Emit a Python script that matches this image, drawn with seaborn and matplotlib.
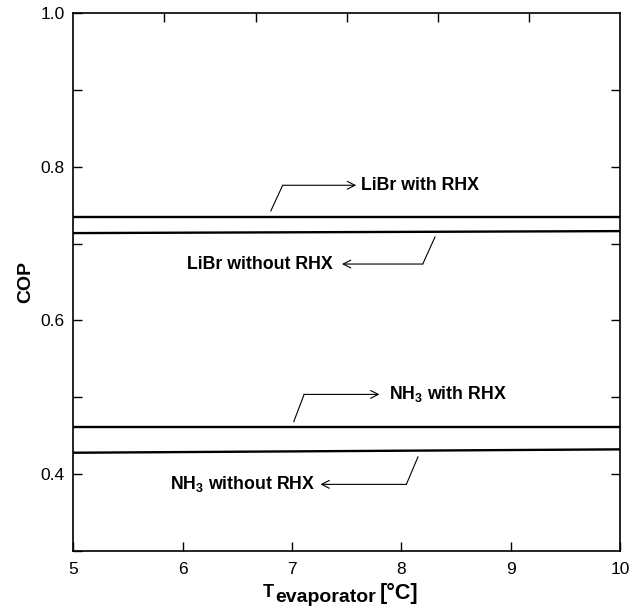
import matplotlib
matplotlib.use("Agg")
import matplotlib.pyplot as plt
import numpy as np
import pandas as pd
import seaborn as sns

# ---------------- data ----------------
t_evap = [5.0, 7.5, 10.0]
cop_libr_rhx = [0.7342, 0.7342, 0.7342]
cop_libr_norhx = [0.7137, 0.7150, 0.7163]
cop_nh3_rhx = [0.4614, 0.4614, 0.4614]
cop_nh3_norhx = [0.4276, 0.4298, 0.4320]
series_names = ["LiBr with RHX", "LiBr without RHX", "NH3 with RHX", "NH3 without RHX"]

x_ticks = [5, 6, 7, 8, 9, 10]
y_major = [0.4, 0.6, 0.8, 1.0]
y_minor = [0.3, 0.5, 0.7, 0.9]

# annotation label, line start, corner, arrow head, text position, alignment
ann_labels = ["LiBr with RHX", "LiBr without RHX", r"NH$_\mathregular{3}$ with RHX", r"NH$_\mathregular{3}$ without RHX"]
ann_start = [(6.806, 0.7424), (8.309, 0.709), (7.016, 0.468), (8.153, 0.4224)]
ann_corner = [(6.915, 0.776), (8.196, 0.6734), (7.111, 0.5036), (8.046, 0.3864)]
ann_head = [(7.587, 0.776), (7.457, 0.6734), (7.800, 0.5036), (7.260, 0.3864)]
ann_text = [(7.632, 0.776), (7.376, 0.6734), (7.885, 0.5036), (7.215, 0.3864)]
ann_ha = ["left", "right", "left", "right"]

df = pd.concat([
    pd.DataFrame({"T": t_evap, "COP": v, "series": n})
    for v, n in zip([cop_libr_rhx, cop_libr_norhx, cop_nh3_rhx, cop_nh3_norhx], series_names)
])

sns.set_style("white")
plt.rcParams["font.family"] = ["Liberation Sans", "DejaVu Sans"]
plt.rcParams["mathtext.fontset"] = "custom"
plt.rcParams["mathtext.rm"] = "Liberation Sans:bold"
plt.rcParams["mathtext.bf"] = "Liberation Sans:bold"
for k in ["text.color", "axes.labelcolor", "xtick.color", "ytick.color", "axes.edgecolor"]:
    plt.rcParams[k] = "black"
plt.rcParams["axes.axisbelow"] = False

W, H = 642, 610
fig = plt.figure(figsize=(W / 100, H / 100), dpi=100)
L, R, T, B = 73.3, 620.0, 13.3, 550.7
ax = fig.add_axes([L / W, 1 - B / H, (R - L) / W, (B - T) / H])

sns.lineplot(data=df, x="T", y="COP", hue="series", palette=["black"] * 4,
             legend=False, ax=ax, linewidth=1.7)

ax.set_xlim(5, 10)
ax.set_ylim(0.3, 1.0)
ax.set_xticks(x_ticks)
ax.set_xticklabels([str(v) for v in x_ticks])
ax.set_yticks(y_major)
ax.set_yticklabels([f"{v:.1f}" for v in y_major])
ax.set_yticks(y_minor, minor=True)
for s in ax.spines.values():
    s.set_visible(True)
    s.set_color("black")
    s.set_linewidth(1.2)

tick_kw = dict(direction="in", length=6.5, width=1.0, color="black")

ax.xaxis.set_ticks_position("bottom")
ax.yaxis.set_ticks_position("left")
ax.tick_params(axis="both", which="both", labelsize=12.5, labelcolor="black", **tick_kw)
ax.tick_params(axis="x", which="both", bottom=True, pad=8)
ax.tick_params(axis="y", which="both", left=True, pad=6)

top = ax.secondary_xaxis("top")
top.set_xticks([5 + k * 5 / 6 for k in range(1, 6)])
top.tick_params(top=True, labeltop=False, **tick_kw)
right = ax.secondary_yaxis("right")
right.set_yticks(y_major[:-1] + y_minor[1:])
right.tick_params(right=True, labelright=False, **tick_kw)
for sa in (top, right):
    sa.patch.set_visible(False)
    for s in sa.spines.values():
        s.set_visible(False)

ax.set_xlabel("")
ax.set_ylabel("COP", fontsize=14, fontweight="bold", labelpad=5)

for lab, s0, c0, h0, tp, ha in zip(ann_labels, ann_start, ann_corner, ann_head, ann_text, ann_ha):
    ax.plot([s0[0], c0[0]], [s0[1], c0[1]], color="black", lw=0.8)
    ax.annotate("", xy=h0, xytext=c0,
                arrowprops=dict(arrowstyle="->,head_length=0.55,head_width=0.28", lw=0.8,
                                color="black", shrinkA=0, shrinkB=0))
    ax.text(tp[0], tp[1], lab, ha=ha, va="center", fontsize=12.8, fontweight="bold")

# x label composed of pieces: T, subscript-like 'evaporator', and [°C]
fig.canvas.draw()
r = fig.canvas.get_renderer()
t1 = fig.text(263 / W, 1 - 597 / H, "T", fontsize=13, fontweight="bold", va="baseline", ha="left")
e1 = t1.get_window_extent(r)
t2 = fig.text((e1.x1 + 1.0) / W, 1 - 602 / H, "evaporator", fontsize=14, fontweight="bold",
              va="baseline", ha="left")
e2 = t2.get_window_extent(r)
t3 = fig.text((e2.x1 + 4) / W, 1 - 599 / H, "[°C]", fontsize=15.5, fontweight="bold",
              va="baseline", ha="left")

fig.savefig("out.png", dpi=100)
